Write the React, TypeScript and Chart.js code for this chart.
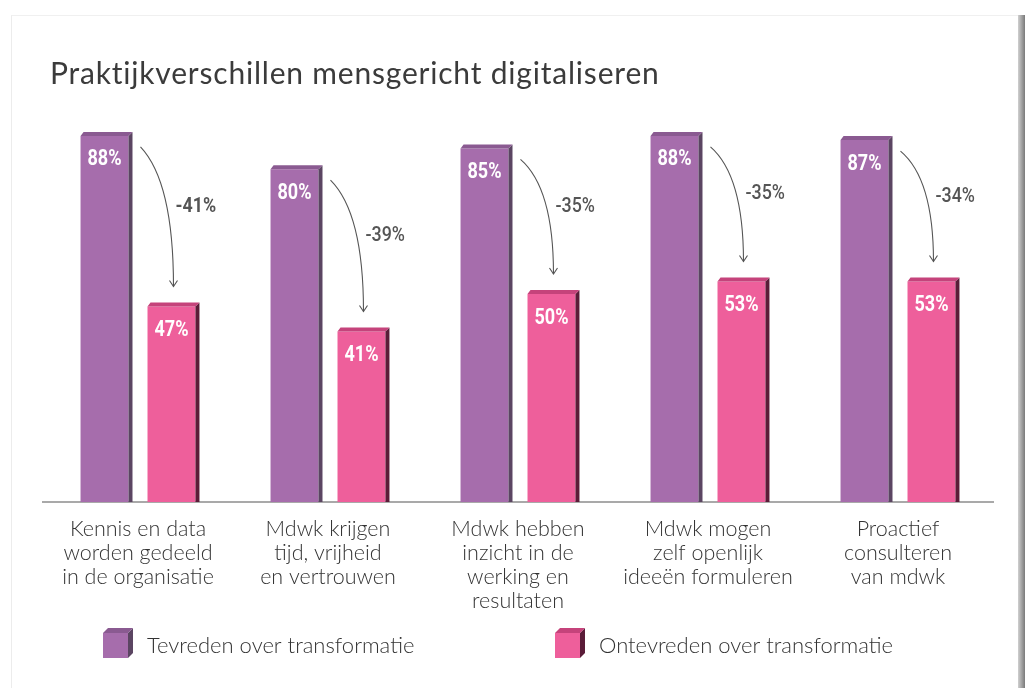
import React, { useEffect, useRef } from "react";
import { Chart, registerables } from "chart.js";

Chart.register(...registerables);

const chartTitle = "Praktijkverschillen mensgericht digitaliseren";
const categories: string[][] = [
  ["Kennis en data", "worden gedeeld", "in de organisatie"],
  ["Mdwk krijgen", "tijd, vrijheid", "en vertrouwen"],
  ["Mdwk hebben", "inzicht in de", "werking en", "resultaten"],
  ["Mdwk mogen", "zelf openlijk", "ideeën formuleren"],
  ["Proactief", "consulteren", "van mdwk"],
];
const seriesNames = ["Tevreden over transformatie", "Ontevreden over transformatie"];
const satisfied = [88, 80, 85, 88, 87];
const dissatisfied = [47, 41, 50, 53, 53];
const differences = satisfied.map((v, i) => dissatisfied[i] - v);

const FRONT = ["#a66dac", "#ee5f9b"];
const SIDE = ["#5b4562", "#5a1c38"];
const TOP = ["#8a5a91", "#c5437b"];

function condensedText(ctx: CanvasRenderingContext2D, text: string, x: number, y: number, font: string, color: string, sx: number, align: CanvasTextAlign) {
  ctx.save();
  ctx.translate(x, y);
  ctx.scale(sx, 1);
  ctx.font = font;
  ctx.fillStyle = color;
  ctx.textAlign = align;
  ctx.textBaseline = "middle";
  (ctx as any).letterSpacing = "0px";
  ctx.fillText(text, 0, 0);
  ctx.restore();
}

const decorPlugin = {
  id: "decor",
  afterDatasetsDraw(chart: any) {
    const ctx: CanvasRenderingContext2D = chart.ctx;
    const metas = [chart.getDatasetMeta(0), chart.getDatasetMeta(1)];
    const D = 4;
    metas.forEach((meta: any, di: number) => {
      meta.data.forEach((bar: any, i: number) => {
        const { x, y, base, width } = bar.getProps(["x", "y", "base", "width"], true);
        const l = x - width / 2;
        const r = x + width / 2;
        ctx.save();
        ctx.fillStyle = SIDE[di];
        ctx.beginPath();
        ctx.moveTo(r, y);
        ctx.lineTo(r + D, y - D);
        ctx.lineTo(r + D, base);
        ctx.lineTo(r, base);
        ctx.closePath();
        ctx.fill();
        ctx.fillStyle = TOP[di];
        ctx.beginPath();
        ctx.moveTo(l, y);
        ctx.lineTo(l + D - 1, y - D);
        ctx.lineTo(r + D, y - D);
        ctx.lineTo(r, y);
        ctx.closePath();
        ctx.fill();
        ctx.restore();
        const v = chart.data.datasets[di].data[i];
        condensedText(ctx, v + "%", x, y + 24, "bold 22px Roboto", "#ffffff", 0.82, "center");
      });
    });
    // arrows
    const pm = metas[0].data;
    const qm = metas[1].data;
    for (let i = 0; i < pm.length; i++) {
      const p = pm[i].getProps(["x", "y", "width"], true);
      const q = qm[i].getProps(["x", "y", "width"], true);
      const sx = p.x + p.width / 2 + 12;
      const sy = p.y + 11;
      const ex = q.x + 2;
      const ey = q.y - 20;
      ctx.save();
      ctx.strokeStyle = "#555555";
      ctx.lineWidth = 1.1;
      ctx.beginPath();
      ctx.moveTo(sx, sy);
      ctx.bezierCurveTo(sx + (ex - sx) * 0.6, sy + (ey - sy) * 0.15, ex, sy + (ey - sy) * 0.45, ex, ey);
      ctx.stroke();
      ctx.beginPath();
      ctx.moveTo(ex - 4, ey - 6);
      ctx.lineTo(ex, ey);
      ctx.lineTo(ex + 4, ey - 6);
      ctx.stroke();
      ctx.restore();
      const d = differences[i];
      condensedText(ctx, (d < 0 ? "-" : "+") + Math.abs(d) + "%", ex + 2, (sy + ey) / 2 - 10, (i === 0 ? "bold " : "500 ") + "21px Roboto", "#555555", 0.85, "left");
    }
  },
  afterDraw(chart: any) {
    const ctx: CanvasRenderingContext2D = chart.ctx;
    const area = chart.chartArea;
    ctx.save();
    ctx.font = "30px Lato";
    (ctx as any).letterSpacing = "0.8px";
    ctx.fillStyle = "#3b3b3b";
    ctx.textAlign = "left";
    ctx.textBaseline = "alphabetic";
    ctx.fillText(chartTitle, 50, 84);
    ctx.restore();
    const offs = [60, 512];
    seriesNames.forEach((name, di) => {
      const bx = area.left + offs[di];
      const by = 633;
      const s = 25;
      const D = 5;
      ctx.save();
      ctx.fillStyle = FRONT[di];
      ctx.fillRect(bx, by, s, s);
      ctx.fillStyle = SIDE[di];
      ctx.beginPath();
      ctx.moveTo(bx + s, by);
      ctx.lineTo(bx + s + D, by - D);
      ctx.lineTo(bx + s + D, by + s - D);
      ctx.lineTo(bx + s, by + s);
      ctx.closePath();
      ctx.fill();
      ctx.fillStyle = TOP[di];
      ctx.beginPath();
      ctx.moveTo(bx, by);
      ctx.lineTo(bx + D, by - D);
      ctx.lineTo(bx + s + D, by - D);
      ctx.lineTo(bx + s, by);
      ctx.closePath();
      ctx.fill();
      ctx.font = "300 22px Lato";
      ctx.fillStyle = "#333333";
      ctx.textAlign = "left";
      ctx.textBaseline = "middle";
      ctx.fillText(name, bx + 44, by + 13);
      ctx.restore();
    });
  },
};

export default function App() {
  const ref = useRef<HTMLCanvasElement | null>(null);
  useEffect(() => {
    if (!ref.current) return;
    const chart = new Chart(ref.current, {
      type: "bar",
      data: {
        labels: categories,
        datasets: [
          { label: seriesNames[0], data: satisfied, backgroundColor: FRONT[0], borderWidth: 0, categoryPercentage: 0.705, barPercentage: 0.716 },
          { label: seriesNames[1], data: dissatisfied, backgroundColor: FRONT[1], borderWidth: 0, categoryPercentage: 0.705, barPercentage: 0.716 },
        ],
      },
      options: {
        animation: false,
        responsive: true,
        maintainAspectRatio: false,
        layout: { padding: { left: 43, right: 32, top: 86, bottom: 60 } },
        plugins: { legend: { display: false }, tooltip: { enabled: false }, title: { display: false } },
        scales: {
          x: {
            grid: { display: false, drawTicks: false },
            border: { display: true, color: "#a9a9a9", width: 2 },
            ticks: { padding: 15, color: "#333333", font: { family: "Lato", size: 21.5, weight: "300", lineHeight: 24 / 21.5 }, maxRotation: 0, autoSkip: false },
          },
          y: { display: false, min: 0, max: 100 },
        },
      },
      plugins: [decorPlugin],
    });
    return () => chart.destroy();
  }, []);
  return (
    <div style={{ position: "fixed", left: 0, top: 0, width: 1025, height: 688, background: "#ffffff", overflow: "hidden" }}>
      <div style={{ position: "absolute", left: 11, top: 15, width: 1007, height: 700, background: "#ffffff", borderLeft: "1px solid #ececec", borderTop: "1px solid #f0f0f0" }} />
      <div style={{ position: "absolute", left: 1018, top: 15, width: 7, height: 680, background: "linear-gradient(to right, #d0d0d0, #7a7a7a)" }} />
      <div style={{ position: "absolute", left: 0, top: 0, width: 1025, height: 688 }}>
        <canvas ref={ref} />
      </div>
    </div>
  );
}
